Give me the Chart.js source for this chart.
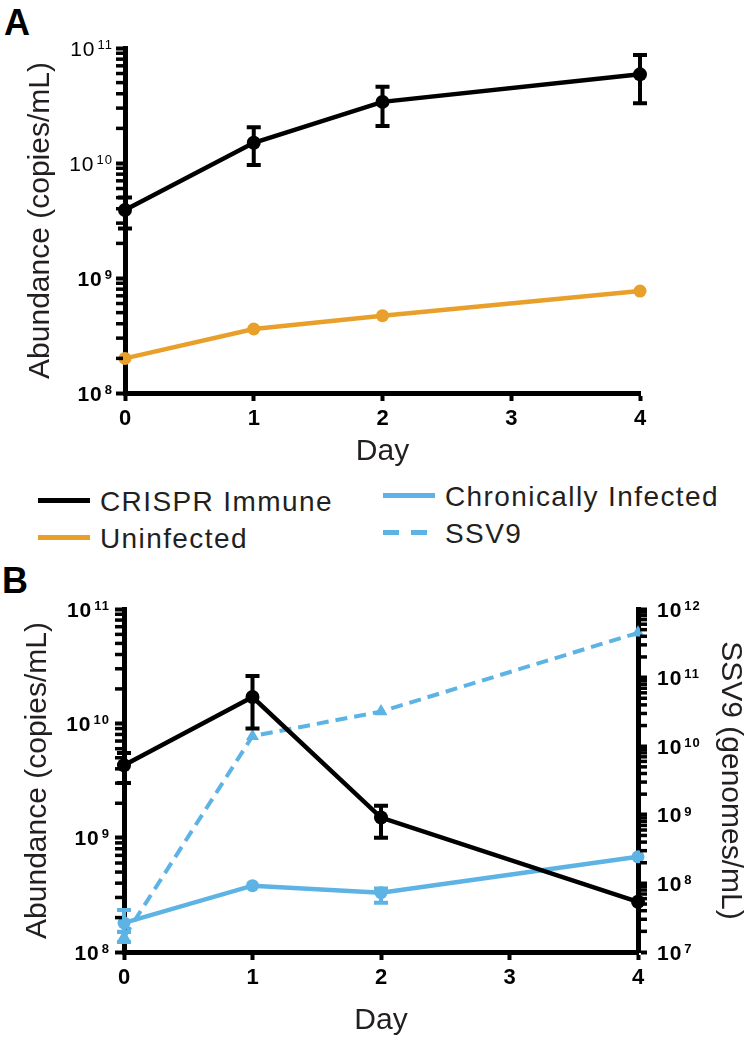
<!DOCTYPE html>
<html>
<head>
<meta charset="utf-8">
<script src="https://cdn.jsdelivr.net/npm/chart.js@4.4.0/dist/chart.umd.min.js"></script>
<style>
  body { margin: 0; background: #fff; }
  #page { position: relative; width: 750px; height: 1042px; font-family: "Liberation Sans", Arial, sans-serif; color: #231f20; }
  #page canvas { position: absolute; left: 0; }
  .letter { position: absolute; font-weight: bold; font-size: 36px; line-height: 36px; color: #000; }
  .legend-item { position: absolute; font-size: 28px; line-height: 28px; letter-spacing: 1.4px; white-space: nowrap; }
  .swatch { position: absolute; width: 52px; height: 5px; }
</style>
</head>
<body>
<div id="page">
  <div class="letter" style="left:4px; top:5px;">A</div>
  <canvas id="chartA" width="750" height="470" style="top:0"></canvas>
  <div id="legend"></div>
  <div class="letter" style="left:2px; top:563px;">B</div>
  <canvas id="chartB" width="750" height="482" style="top:560px"></canvas>
</div>
<script>
const FONT = '"Liberation Sans", Arial, sans-serif';
const BLACK = '#000000';
const ORANGE = '#E8A02B';
const BLUE = '#5CB3E4';

const days = [0, 1, 2, 4];
const dayTicks = [0, 1, 2, 3, 4];

// panel A
const crisprA = [3.9e9, 1.5e10, 3.4e10, 5.9e10];
const crisprALow = [2.7e9, 9.6e9, 2.1e10, 3.3e10];
const crisprAHigh = [5.0e9, 2.05e10, 4.6e10, 8.7e10];
const uninfectedA = [2.0e8, 3.6e8, 4.7e8, 7.7e8];

// panel B
const crisprB = [4.3e9, 1.7e10, 1.5e9, 2.75e8];
const crisprBLow = [3.0e9, 9.0e9, 1.0e9, null];
const crisprBHigh = [5.5e9, 2.6e10, 1.9e9, null];
const chronicB = [1.8e8, 3.8e8, 3.3e8, 6.8e8];
const chronicBLow = [1.5e8, null, 2.7e8, null];
const chronicBHigh = [2.33e8, null, 3.6e8, null];
const ssv9B = [1.65e7, 1.4e10, 3.2e10, 4.5e11];
const ssv9BLow = [1.4e7, null, null, null];
const ssv9BHigh = [1.95e7, null, null, null];

const leftDecades = [1e8, 1e9, 1e10, 1e11];
const rightDecades = [1e7, 1e8, 1e9, 1e10, 1e11, 1e12];

const seriesNames = ['CRISPR Immune', 'Uninfected', 'Chronically Infected', 'SSV9'];
const seriesColors = [BLACK, ORANGE, BLUE, BLUE];

function pts(vals) {
  return days.map((d, i) => ({ x: d, y: vals[i] }));
}

// legend (html)
const legendPos = [
  { left: 38, y: 500, dash: false },
  { left: 38, y: 537, dash: false },
  { left: 383, y: 495, dash: false },
  { left: 383, y: 532, dash: true }
];
const legend = document.getElementById('legend');
seriesNames.forEach((name, i) => {
  const p = legendPos[i];
  const sw = document.createElement('div');
  sw.className = 'swatch';
  sw.style.left = p.left + 'px';
  sw.style.top = (p.y - 2.5) + 'px';
  sw.style.background = p.dash
    ? 'repeating-linear-gradient(90deg,' + seriesColors[i] + ' 0 16px, transparent 16px 28px)'
    : seriesColors[i];
  legend.appendChild(sw);
  const tx = document.createElement('div');
  tx.className = 'legend-item';
  tx.style.left = (p.left + 62) + 'px';
  tx.style.top = (p.y - 12) + 'px';
  tx.textContent = name;
  legend.appendChild(tx);
});

// minor ticks on log axes
const logMinorTicks = {
  id: 'logMinorTicks',
  afterDraw(chart) {
    const ctx = chart.ctx;
    Object.values(chart.scales).forEach(scale => {
      if (scale.type !== 'logarithmic') return;
      const lo = Math.round(Math.log10(scale.min));
      const hi = Math.round(Math.log10(scale.max));
      const onLeft = scale.position === 'left';
      const x0 = onLeft ? chart.chartArea.left - 2 : chart.chartArea.right + 2;
      ctx.save();
      ctx.strokeStyle = '#000';
      ctx.lineWidth = 3.5;
      for (let e = lo; e < hi; e++) {
        for (let k = 2; k <= 9; k++) {
          const y = scale.getPixelForValue(k * Math.pow(10, e));
          ctx.beginPath();
          ctx.moveTo(x0, y);
          ctx.lineTo(onLeft ? x0 - 7 : x0 + 7, y);
          ctx.stroke();
        }
      }
      ctx.restore();
    });
  }
};

// "10" with a raised exponent at each decade tick
const powerLabels = {
  id: 'powerLabels',
  afterDraw(chart, args, opts) {
    const ctx = chart.ctx;
    const axes = opts.axes || {};
    Object.keys(axes).forEach(id => {
      const scale = chart.scales[id];
      const cfg = axes[id];
      scale.ticks.forEach(t => {
        const y = scale.getPixelForValue(t.value);
        const exp = String(Math.round(Math.log10(t.value)));
        const weight = t.value >= cfg.regularFrom ? 'normal' : 'bold';
        ctx.save();
        ctx.fillStyle = '#000';
        ctx.textAlign = 'left';
        ctx.textBaseline = 'alphabetic';
        ctx.letterSpacing = '1px';
        ctx.font = weight + ' 21px ' + FONT;
        const baseW = ctx.measureText('10').width;
        ctx.font = weight + ' 13px ' + FONT;
        const expW = ctx.measureText(exp).width;
        const total = baseW + 2 + expW;
        const x0 = cfg.side === 'left' ? cfg.edge - total : cfg.edge;
        ctx.font = weight + ' 21px ' + FONT;
        ctx.fillText('10', x0, y + 7.5);
        ctx.font = weight + ' 13px ' + FONT;
        ctx.fillText(exp, x0 + baseW + 2, y + 0.8);
        ctx.restore();
      });
    });
  }
};

const errorBars = {
  id: 'errorBars',
  afterDatasetsDraw(chart) {
    const ctx = chart.ctx;
    chart.data.datasets.forEach((ds, i) => {
      if (!ds.errLow) return;
      const meta = chart.getDatasetMeta(i);
      const yScale = chart.scales[meta.yAxisID];
      ctx.save();
      ctx.strokeStyle = ds.borderColor;
      ctx.lineWidth = 4;
      meta.data.forEach((pt, j) => {
        const lo = ds.errLow[j], hi = ds.errHigh[j];
        if (lo == null) return;
        const y1 = yScale.getPixelForValue(lo);
        const y2 = yScale.getPixelForValue(hi);
        ctx.beginPath();
        ctx.moveTo(pt.x, y1); ctx.lineTo(pt.x, y2);
        ctx.moveTo(pt.x - 7, y1); ctx.lineTo(pt.x + 7, y1);
        ctx.moveTo(pt.x - 7, y2); ctx.lineTo(pt.x + 7, y2);
        ctx.stroke();
      });
      ctx.restore();
    });
  }
};

function dayAxis(height, titlePad) {
  return {
    type: 'linear', position: 'bottom', min: 0, max: 4,
    afterBuildTicks: s => { s.ticks = dayTicks.map(v => ({ value: v })); },
    afterFit: s => { s.height = height; },
    ticks: { color: '#000', padding: 5, font: { family: FONT, size: 22, weight: 'bold' }, callback: v => String(v) },
    grid: { display: true, drawOnChartArea: false, drawTicks: true, tickLength: 8, tickWidth: 4, tickColor: '#000' },
    border: { display: true, width: 5, color: '#000' },
    title: { display: true, text: 'Day', color: '#231f20', font: { family: FONT, size: 30 }, padding: { top: 0, bottom: titlePad } }
  };
}

function logAxis(position, decades, width, titleText, titlePad) {
  return {
    type: 'logarithmic', position: position,
    min: decades[0], max: decades[decades.length - 1],
    afterBuildTicks: s => { s.ticks = decades.map(v => ({ value: v })); },
    afterFit: s => { s.width = width; },
    ticks: { display: false },
    grid: { display: true, drawOnChartArea: false, drawTicks: true, tickLength: 9, tickWidth: 4, tickColor: '#000' },
    border: { display: true, width: 5, color: '#000' },
    title: { display: true, text: titleText, color: '#231f20', font: { family: FONT, size: 30 }, padding: { top: titlePad, bottom: 0 } }
  };
}

new Chart(document.getElementById('chartA'), {
  type: 'line',
  data: {
    datasets: [
      { label: seriesNames[0], data: pts(crisprA), errLow: crisprALow, errHigh: crisprAHigh,
        borderColor: BLACK, backgroundColor: BLACK, borderWidth: 4.5, pointRadius: 7, pointBorderWidth: 0, clip: false },
      { label: seriesNames[1], data: pts(uninfectedA),
        borderColor: ORANGE, backgroundColor: ORANGE, borderWidth: 4.5, pointRadius: 6.5, pointBorderWidth: 0, clip: false }
    ]
  },
  options: {
    responsive: false,
    animation: false,
    devicePixelRatio: 1,
    layout: { padding: { top: 48, right: 110, left: 0, bottom: 0 } },
    elements: { line: { tension: 0 } },
    plugins: {
      legend: { display: false },
      tooltip: { enabled: false },
      powerLabels: { axes: { y: { side: 'left', edge: 113, regularFrom: 1e10 } } }
    },
    scales: {
      x: dayAxis(77, 0),
      y: logAxis('left', leftDecades, 125, 'Abundance (copies/mL)', 23)
    }
  },
  plugins: [logMinorTicks, powerLabels, errorBars]
});

new Chart(document.getElementById('chartB'), {
  type: 'line',
  data: {
    datasets: [
      { label: seriesNames[0], data: pts(crisprB), errLow: crisprBLow, errHigh: crisprBHigh,
        borderColor: BLACK, backgroundColor: BLACK, borderWidth: 4.5, pointRadius: 7, pointBorderWidth: 0, clip: false },
      { label: seriesNames[2], data: pts(chronicB), errLow: chronicBLow, errHigh: chronicBHigh,
        borderColor: BLUE, backgroundColor: BLUE, borderWidth: 4.5, pointRadius: 6.5, pointBorderWidth: 0, clip: false },
      { label: seriesNames[3], data: pts(ssv9B), errLow: ssv9BLow, errHigh: ssv9BHigh, yAxisID: 'y2',
        borderColor: BLUE, backgroundColor: BLUE, borderWidth: 4, borderDash: [12, 7], pointStyle: 'triangle',
        pointRadius: 7.5, pointBorderWidth: 0, clip: false }
    ]
  },
  options: {
    responsive: false,
    animation: false,
    devicePixelRatio: 1,
    layout: { padding: { top: 49, right: 0, left: 0, bottom: 0 } },
    elements: { line: { tension: 0 } },
    plugins: {
      legend: { display: false },
      tooltip: { enabled: false },
      powerLabels: { axes: {
        y: { side: 'left', edge: 110, regularFrom: Infinity },
        y2: { side: 'right', edge: 657, regularFrom: Infinity }
      } }
    },
    scales: {
      x: dayAxis(90, 3),
      y: logAxis('left', leftDecades, 124, 'Abundance (copies/mL)', 20),
      y2: logAxis('right', rightDecades, 112, 'SSV9 (genomes/mL)', 2)
    }
  },
  plugins: [logMinorTicks, powerLabels, errorBars]
});
</script>
</body>
</html>
